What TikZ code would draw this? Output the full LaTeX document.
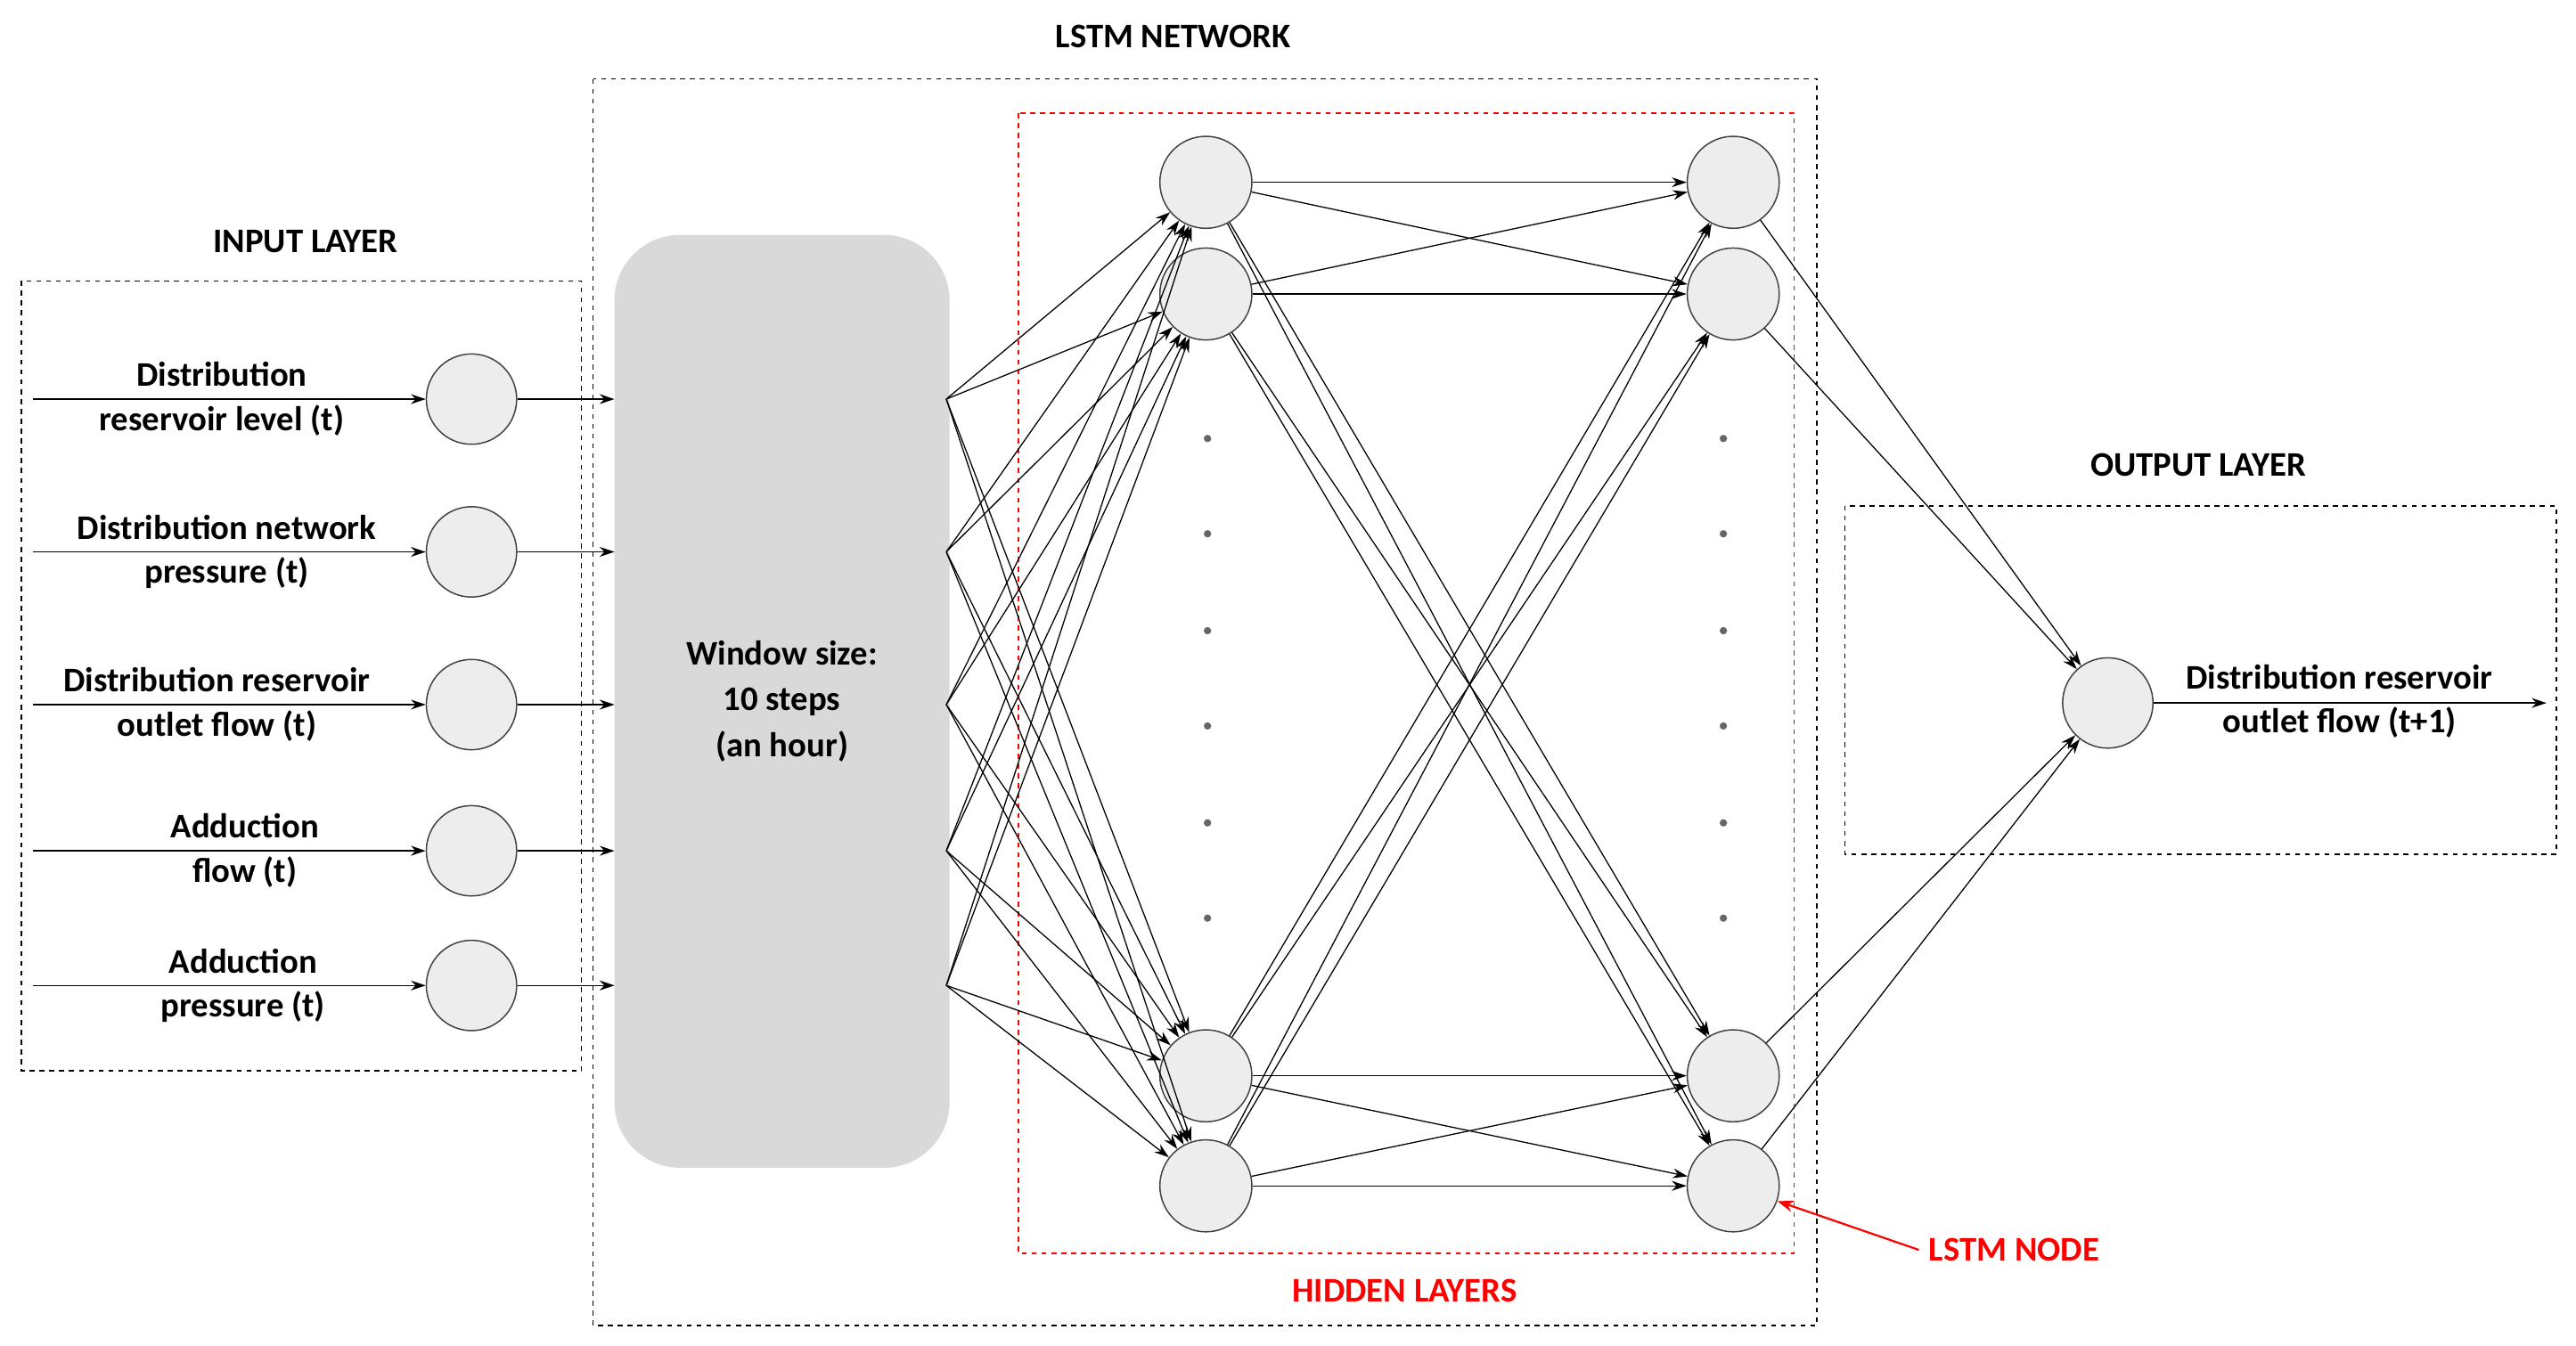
\documentclass[tikz,border=0pt]{standalone}
\usepackage{fontspec}
\setmainfont{Carlito}
\usetikzlibrary{arrows.meta}
\begin{document}
\begin{tikzpicture}[x=1pt,y=-1pt,
  every node/.style={font=\fontsize{21}{28}\selectfont\bfseries},
  neu/.style={circle,draw=black!75,fill=black!7,minimum size=55pt,inner sep=0pt,line width=0.8pt},
  hid/.style={neu,minimum size=56pt},
  box/.style={draw,dashed,line width=0.8pt},
  arr/.style={-{Stealth[length=9pt,width=6pt]},line width=0.7pt},
  lbl/.style={align=center,inner sep=0pt},
  dot/.style={circle,fill=black!60,inner sep=0pt,minimum size=4.5pt}]
\useasboundingbox (0,0) rectangle (1568,819);
% boxes
\draw[box] (13,171) rectangle (354,652);
\draw[box] (361,48) rectangle (1106,807);
\draw[box,red] (620,69) rectangle (1092,763);
\draw[box] (1123,308) rectangle (1556,520);
\node[lbl] (tin) at (186,147) {INPUT LAYER};
\node[lbl] (tlstm) at (714,22) {LSTM NETWORK};
\node[lbl,text=red] (thid) at (855,786) {HIDDEN LAYERS};
\node[lbl] (tout) at (1338,283) {OUTPUT LAYER};
% window
\node[draw=none,fill=black!15,rounded corners=40pt,minimum width=204pt,minimum height=568pt,align=center] (win) at (476,427) {Window size:\\10 steps\\(an hour)};
% inputs
\foreach \i/\y/\a/\b/\lx in {1/243/Distribution/reservoir level (t)/135,2/336/Distribution network/pressure (t)/138,3/429/Distribution reservoir/outlet flow (t)/132,4/518/Adduction/flow (t)/149,5/600/Adduction/pressure (t)/148}{
  \node[neu] (in\i) at (287,\y) {};
  \coordinate (s\i) at (20,\y);
  \coordinate (wi\i) at (374,\y);
  \coordinate (wo\i) at (576,\y);
  \draw[arr] (s\i) -- (in\i);
  \draw[arr] (in\i) -- (wi\i);
  \node[lbl] (la\i) at (\lx,\y-15) {\a};
  \node[lbl] (lb\i) at (\lx,\y+13) {\b};
}
% hidden
\foreach \i/\y in {1/111,2/179,3/655,4/722}{
  \node[hid] (h\i) at (734,\y) {};
  \node[hid] (g\i) at (1055,\y) {};
}
\foreach \j/\y in {1/267,2/325,3/384,4/442,5/501,6/559}{
  \node[dot] (da\j) at (735,\y) {};
  \node[dot] (db\j) at (1049,\y) {};
}
\foreach \i in {1,...,5}{\foreach \k in {1,...,4}{\draw[arr] (wo\i) -- (h\k);}}
\foreach \i in {1,...,4}{\foreach \k in {1,...,4}{\draw[arr] (h\i) -- (g\k);}}
% output
\node[neu] (o) at (1283,428) {};
\foreach \k in {1,...,4}{\draw[arr] (g\k) -- (o);}
\coordinate (oe) at (1550,428);
\draw[arr] (o) -- (oe);
\node[lbl] (ol1) at (1424,412) {Distribution reservoir};
\node[lbl] (ol2) at (1424,440) {outlet flow (t+1)};
% LSTM node label
\node[lbl,text=red] (ln) at (1226,761) {LSTM NODE};
\draw[-{Stealth[length=10pt,width=7pt]},red,line width=1.2pt] (ln.west) ++(-6,0) -- (g4);
\end{tikzpicture}
\end{document}
